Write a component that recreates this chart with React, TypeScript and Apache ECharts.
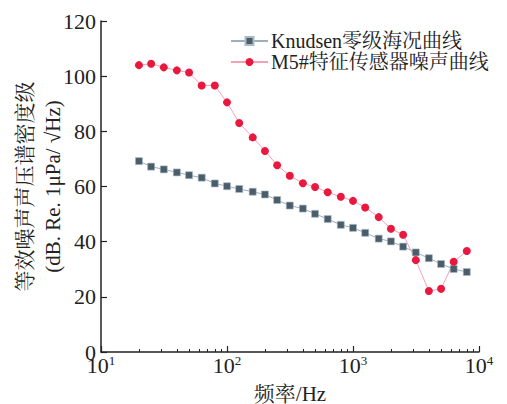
import React, { useEffect, useRef } from "react";
import * as echarts from "echarts";

const freqs = [20, 25, 31.5, 40, 50, 63, 80, 100, 125, 160, 200, 250, 315, 400, 500, 630, 800, 1000, 1250, 1600, 2000, 2500, 3150, 4000, 5000, 6300, 8000];
const knudsen = [69.2, 67.2, 66.2, 65.1, 64.1, 63.2, 61.1, 60.1, 59.1, 58.1, 57.1, 55.1, 53.1, 52.0, 50.1, 48.2, 46.1, 45.0, 43.2, 41.1, 40.1, 38.2, 36.1, 34.0, 31.9, 30.1, 29.0];
const m5 = [104.0, 104.5, 103.2, 102.1, 101.3, 96.6, 96.6, 90.5, 83.0, 77.8, 72.9, 67.7, 63.9, 61.2, 59.8, 57.9, 56.3, 54.8, 52.4, 48.9, 44.7, 42.5, 33.3, 22.1, 22.9, 32.7, 36.6];
const seriesNames = ["Knudsen零级海况曲线", "M5#特征传感器噪声曲线"];
const minorTicks = [20, 30, 40, 50, 60, 70, 80, 90, 200, 300, 400, 500, 600, 700, 800, 900, 2000, 3000, 4000, 5000, 6000, 7000, 8000, 9000];
const yAxisTitle = "等效噪声声压谱密度级\n(dB. Re. 1μPa/ √Hz)";
const xAxisTitle = "频率/Hz";

const FONT = "'Liberation Serif', 'Times New Roman', 'Noto Serif CJK SC', 'Noto Sans CJK SC', serif";
const AXIS_COLOR = "#222";

export default function App() {
  const ref = useRef<HTMLDivElement>(null);
  useEffect(() => {
    if (!ref.current) return;
    const chart = echarts.init(ref.current, undefined, { renderer: "svg" });
    chart.setOption({
      animation: false,
      backgroundColor: "#fff",
      textStyle: { fontFamily: FONT },
      grid: { left: 101, right: 28, top: 21, bottom: 52, containLabel: false, outerBoundsMode: "none" },
      legend: {
        orient: "vertical",
        left: 225,
        top: 26,
        padding: 5,
        itemGap: 1,
        itemWidth: 37,
        itemHeight: 10,
        textStyle: { fontFamily: FONT, fontSize: 20, color: "#222", padding: [0, 0, 0, -2] },
        data: seriesNames,
      },
      xAxis: [
        {
          type: "log",
          logBase: 10,
          min: 10,
          max: 10000,
          name: xAxisTitle,
          nameLocation: "middle",
          nameGap: 31,
          nameMoveOverlap: false,
          nameTextStyle: { fontFamily: FONT, fontSize: 21, color: "#222" },
          axisLine: { show: true, lineStyle: { color: AXIS_COLOR, width: 1.5 } },
          axisTick: { show: true, inside: true, length: 6, lineStyle: { color: AXIS_COLOR, width: 1.2 } },
          axisLabel: {
            margin: 2,
            color: "#222",
            formatter: (v: number) => `{b|10}{s|${Math.round(Math.log10(v))}}`,
            rich: {
              b: { fontFamily: FONT, fontSize: 22, color: "#222" },
              s: { fontFamily: FONT, fontSize: 13, color: "#222", padding: [0, 0, 10, 0] },
            },
          },
          splitLine: { show: false },
        },
        {
          type: "log",
          logBase: 10,
          min: 10,
          max: 10000,
          position: "bottom",
          axisLine: { show: false },
          axisTick: {
            show: true,
            inside: true,
            length: 3,
            customValues: minorTicks,
            lineStyle: { color: AXIS_COLOR, width: 1 },
          },
          axisLabel: { show: false },
          splitLine: { show: false },
        },
      ],
      yAxis: {
        type: "value",
        min: 0,
        max: 120,
        interval: 20,
        name: yAxisTitle,
        nameLocation: "middle",
        nameGap: 34,
        nameMoveOverlap: false,
        nameTextStyle: { fontFamily: FONT, fontSize: 21, color: "#222", lineHeight: 28, align: "center" },
        axisLine: { show: true, lineStyle: { color: AXIS_COLOR, width: 1.5 } },
        axisTick: { show: true, inside: true, length: 6, lineStyle: { color: AXIS_COLOR, width: 1.2 } },
        axisLabel: { margin: 5, fontFamily: FONT, fontSize: 22, color: "#222" },
        splitLine: { show: false },
      },
      series: [
        {
          name: seriesNames[0],
          type: "line",
          xAxisIndex: 0,
          data: freqs.map((f, i) => [f, knudsen[i]]),
          symbol: "rect",
          symbolSize: 7,
          itemStyle: { color: "#4b5d69", borderColor: "#a8bac6", borderWidth: 0.6 },
          lineStyle: { color: "#9cb0bd", width: 1 },
        },
        {
          name: seriesNames[1],
          type: "line",
          xAxisIndex: 0,
          data: freqs.map((f, i) => [f, m5[i]]),
          symbol: "circle",
          symbolSize: 8,
          itemStyle: { color: "#e8183f" },
          lineStyle: { color: "#f3a2b6", width: 1 },
        },
      ],
    });
    return () => chart.dispose();
  }, []);
  return <div ref={ref} style={{ position: "fixed", left: 0, top: 0, width: 507, height: 404 }} />;
}
